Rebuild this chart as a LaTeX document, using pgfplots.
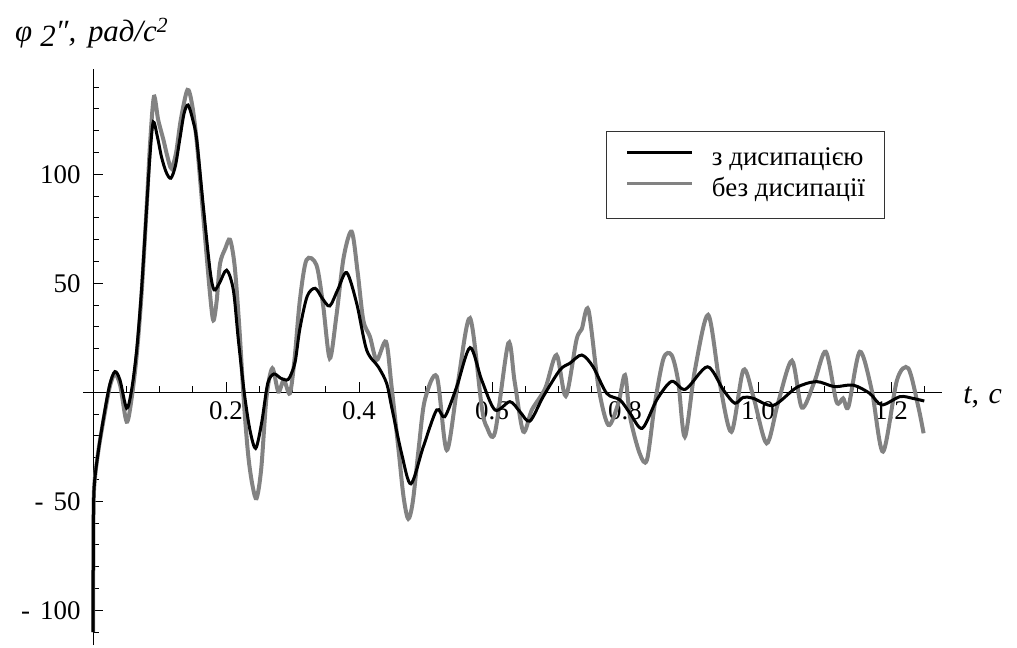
\documentclass[border=0pt]{standalone}
\usepackage{fontspec}
\setmainfont{Liberation Serif}
\usepackage{pgfplots}
\pgfplotsset{compat=1.18}
\definecolor{curvegray}{RGB}{130,130,130}
\pgfplotstableread{
t y
0 -110
0.0005 -75
0.0015 -45
0.008 -27
0.018 -9
0.0256 3
0.033 8.5
0.041 3
0.0506 -13.5
0.058 -3
0.0657 17
0.073 45
0.0807 85
0.086 115
0.0917 135.6
0.098 125
0.106 115.7
0.112 108
0.118 102.7
0.125 110
0.132 125
0.142 138.7
0.149 132
0.156 115
0.166 80
0.176 45
0.181 33
0.186 42
0.191 59
0.199 66
0.206 70
0.213 58
0.22 30
0.227 -5
0.2336 -29.5
0.240 -43
0.246 -48.6
0.253 -35
0.261 -2
0.2697 11
0.2787 0.3
0.287 5.6
0.296 -0.5
0.303 15
0.311 42
0.321 60.7
0.336 58.4
0.346 40
0.356 15.6
0.366 35
0.377 62
0.389 73.7
0.398 55
0.4065 33
0.4165 25.5
0.4266 14.8
0.4406 23.2
0.449 2.6
0.460 -28
0.467 -48
0.474 -58
0.481 -50
0.49 -25
0.499 -3.5
0.517 7.2
0.532 -26.5
0.549 5
0.567 34
0.5845 -6.6
0.592 -15.8
0.6045 -18.4
0.6245 22.5
0.634 5
0.647 -18
0.66 -8
0.68 1.8
0.697 17.1
0.711 -1.7
0.727 24
0.735 29
0.745 37.8
0.760 2.6
0.775 -15
0.790 -5
0.800 7.9
0.8075 -11.2
0.822 -28
0.833 -31
0.845 -5
0.858 15.6
0.870 17.1
0.880 5
0.890 -20.4
0.905 10
0.925 35.5
0.942 5
0.960 -18.1
0.978 10.2
0.993 -2
1.013 -23.4
1.030 -5
1.051 14.5
1.066 -7
1.085 5
1.102 18.6
1.118 -4.3
1.128 -2.8
1.136 -6.6
1.153 18.6
1.171 1
1.188 -27.2
1.209 5.6
1.226 11
1.241 -6.6
1.249 -18.8
}\graydata
\pgfplotstableread{
t y
0 -110
0.0005 -75
0.0015 -45
0.008 -27
0.018 -8
0.0256 4
0.033 9.5
0.0406 5.6
0.0506 -7.3
0.058 1
0.0657 19.4
0.073 47
0.0807 85
0.086 110
0.0907 124
0.097 117
0.103 108
0.110 101
0.117 98.2
0.124 104
0.131 117
0.137 128
0.143 131.8
0.150 125
0.156 115.7
0.166 85
0.176 56
0.182 47
0.190 50
0.201 56
0.211 47
0.2186 24
0.2276 -0.5
0.236 -17.3
0.2446 -25.7
0.2536 -14
0.2627 4
0.272 8.4
0.282 6.5
0.291 5.6
0.296 7
0.304 14
0.311 29
0.322 44
0.334 47.7
0.345 43
0.356 39.6
0.368 47
0.3815 54.9
0.3965 40.8
0.4115 19.4
0.429 11.7
0.4416 4.1
0.449 -6.6
0.464 -28
0.478 -42
0.4967 -25
0.5168 -8.1
0.529 -11.2
0.547 2.6
0.567 20.5
0.5845 5.6
0.6045 -8.1
0.627 -4.3
0.642 -8.9
0.657 -13.2
0.677 -2
0.702 10.2
0.717 13.3
0.735 17.1
0.752 11.7
0.7725 -0.5
0.7925 -3.5
0.8075 -9.6
0.826 -16.5
0.8477 -3.5
0.870 5
0.891 1.4
0.924 11.7
0.948 1
0.965 -5
0.978 -2.3
0.993 -2.8
1.023 -6
1.058 2.2
1.088 4.9
1.115 2.6
1.143 3.3
1.168 -0.5
1.186 -5.8
1.2135 -2
1.233 -2.8
1.25 -4
}\blackdata
\begin{document}
\begin{tikzpicture}
\begin{axis}[
  x=665bp, y=2.18bp,
  axis lines=middle,
  axis line style={-, line width=0.8bp, black},
  xmin=-0.015, xmax=1.276, ymin=-116, ymax=148.3,
  xtick={0.2,0.4,0.6,0.8,1.0,1.2},
  xticklabels={0.2,0.4,0.6,0.8,1.0,1.2},
  minor xtick={0.05,0.1,0.15,0.25,0.3,0.35,0.45,0.5,0.55,0.65,0.7,0.75,0.85,0.9,0.95,1.05,1.1,1.15,1.25},
  ytick={-100,-50,50,100},
  yticklabels={-\hspace{10bp}100,-\hspace{10bp}50,50,100},
  minor ytick={-110,-90,-80,-70,-60,-40,-30,-20,-10,10,20,30,40,60,70,80,90,110,120,130,140},
  tick align=inside,
  major tick length=10bp, minor tick length=6bp,
  tick style={line width=0.8bp, black},
  ticklabel style={font=\fontsize{27}{32}\selectfont},
  xticklabel style={anchor=north, yshift=-6bp},
  yticklabel style={anchor=east, xshift=-9bp},
  clip=false,
  xlabel={\textit{t}, \hspace{2bp}\textit{c}},
  every axis x label/.style={at={(current axis.right of origin)}, anchor=base west, xshift=18bp, yshift=-11bp, font=\fontsize{30}{34}\selectfont},
  reverse legend,
  legend style={at={(axis cs:0.7714,119.9)}, anchor=north west, draw=black!80, line width=0.8bp,
    font=\fontsize{27}{31}\selectfont, inner xsep=19bp, inner ysep=15bp, row sep=5bp, column sep=18bp,
    nodes={inner sep=0bp, text height=19bp, text depth=7bp}},
  legend cell align=left,
  legend image code/.code={\draw[#1, line width=3.6bp] (0bp,7bp) -- (65bp,7bp);},
]
\addplot[curvegray, line width=4bp, smooth, tension=0.5] table[x=t,y=y] {\graydata};
\addlegendentry{без дисипації}
\addplot[black, line width=3bp, smooth, tension=0.5] table[x=t,y=y] {\blackdata};
\addlegendentry{з дисипацією}
\coordinate (O) at (axis cs:0,0);
\end{axis}
\node[anchor=base west, inner sep=0bp, font=\fontsize{31}{34}\selectfont\itshape] at ([shift={(-78bp,350.3bp)}]O) {φ\hspace{8bp}\raisebox{-5bp}{2}″, \hspace{4bp}рад/с\textsuperscript{2}};
\pgfresetboundingbox
\path[use as bounding box] ([shift={(-93bp,-255.7bp)}]O) rectangle ([shift={(924bp,392.3bp)}]O);
\end{tikzpicture}
\end{document}
